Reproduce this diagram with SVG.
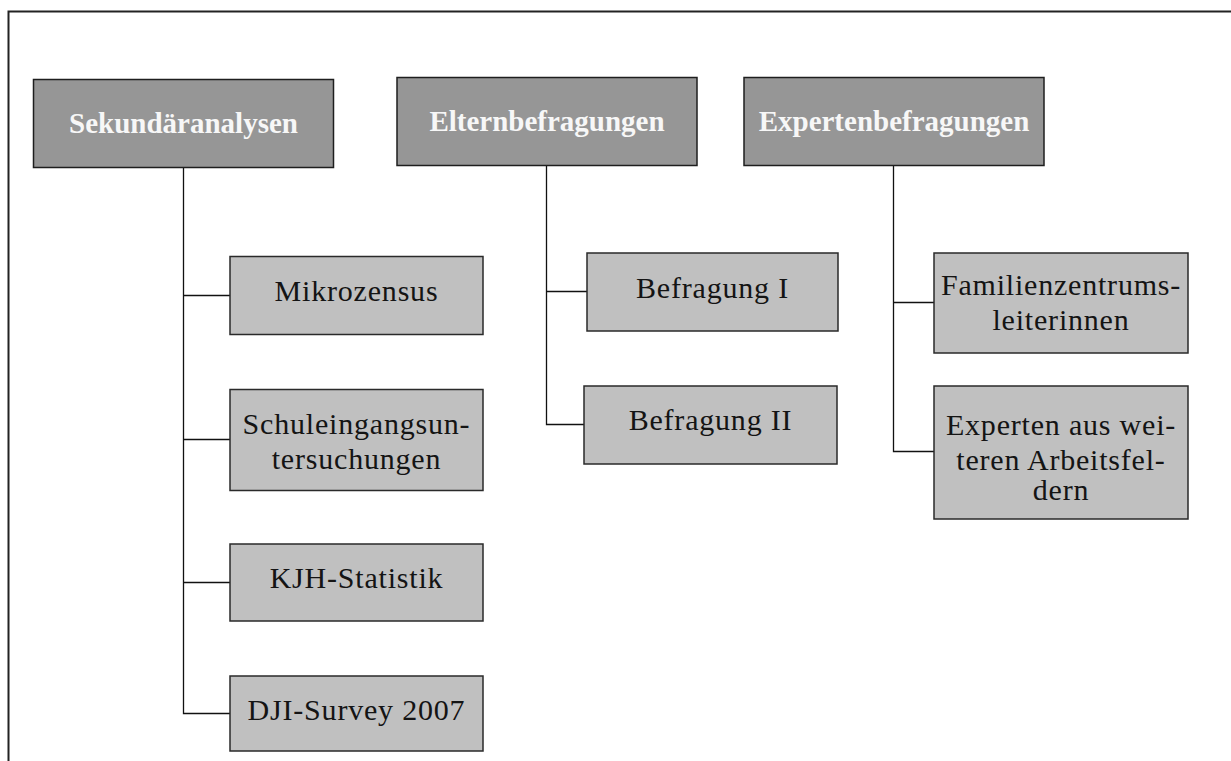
<svg xmlns="http://www.w3.org/2000/svg" width="1231" height="761" viewBox="0 0 1231 761">
<style>
.hdr rect{fill:#969696;stroke:#1e1e1e;stroke-width:1.5}
.hdr text{fill:#f7f7f7;font-family:"Liberation Serif",serif;font-weight:bold;font-size:29px;text-anchor:middle}
.ch rect{fill:#c0c0c0;stroke:#2a2a2a;stroke-width:1.5}
.ch text{fill:#141414;font-family:"Liberation Serif",serif;font-size:30px;text-anchor:middle;letter-spacing:0.8px}
.con path{fill:none;stroke:#111;stroke-width:1.3}
</style>
<rect width="1231" height="761" fill="#fff"/>
<path d="M8.5 761 V11.5 H1231" fill="none" stroke="#222" stroke-width="2"/>
<g class="con">
<path d="M183.5 167 V713.5 H230"/>
<path d="M183.5 295.5 H230"/>
<path d="M183.5 439.5 H230"/>
<path d="M183.5 582.5 H230"/>
<path d="M546.5 166 V424.5 H584"/>
<path d="M546.5 291.5 H587"/>
<path d="M893.5 166 V451.5 H934"/>
<path d="M893.5 302.5 H934"/>
</g>
<g id="sekundaeranalysen" class="hdr"><rect x="33.5" y="79.5" width="300" height="88"/><text x="183.5" y="132.5">Sekundäranalysen</text></g>
<g id="elternbefragungen" class="hdr"><rect x="397" y="77.5" width="300" height="88"/><text x="547" y="130.5">Elternbefragungen</text></g>
<g id="expertenbefragungen" class="hdr"><rect x="744" y="77.5" width="300" height="88"/><text x="894" y="130.5">Expertenbefragungen</text></g>
<g id="mikrozensus" class="ch"><rect x="230" y="256.5" width="253" height="78"/><text x="356.5" y="300.5">Mikrozensus</text></g>
<g id="schuleingang" class="ch"><rect x="230" y="389.5" width="253" height="101"/><text x="356.5" y="433.5">Schuleingangsun-</text><text x="356.5" y="468.5">tersuchungen</text></g>
<g id="kjh" class="ch"><rect x="230" y="544" width="253" height="77"/><text x="356.5" y="587.5">KJH-Statistik</text></g>
<g id="dji" class="ch"><rect x="230" y="676" width="253" height="75"/><text x="356.5" y="720">DJI-Survey 2007</text></g>
<g id="befragung1" class="ch"><rect x="587" y="253" width="251" height="78"/><text x="712.5" y="297.5">Befragung I</text></g>
<g id="befragung2" class="ch"><rect x="584" y="386" width="253" height="78"/><text x="710.5" y="430">Befragung II</text></g>
<g id="familienzentrum" class="ch"><rect x="934" y="253" width="254" height="100"/><text x="1061" y="295">Familienzentrums-</text><text x="1061" y="330">leiterinnen</text></g>
<g id="experten-weitere" class="ch"><rect x="934" y="386" width="254" height="133"/><text x="1061" y="435">Experten aus wei-</text><text x="1061" y="469.5">teren Arbeitsfel-</text><text x="1061" y="500">dern</text></g>
</svg>
